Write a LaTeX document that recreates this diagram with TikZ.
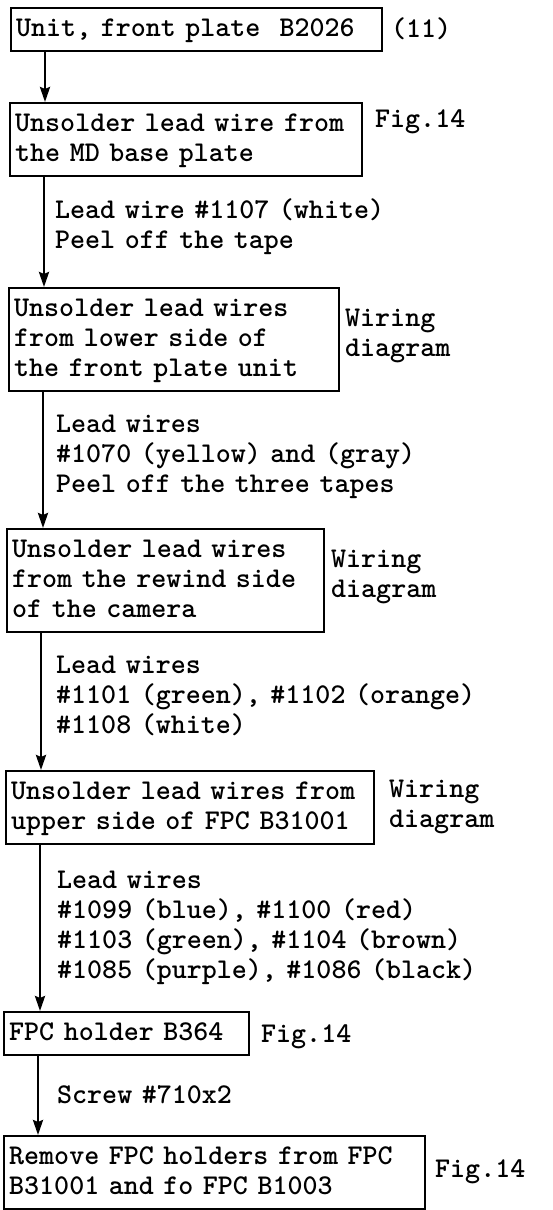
\documentclass[tikz,border=0pt]{standalone}
\usepackage{tikz}
\usetikzlibrary{arrows.meta, positioning, calc}
\newcommand{\flowfont}{\ttfamily\bfseries\fontsize{28.6}{30}\selectfont\frenchspacing}
\tikzset{
  % Riquadri delle operazioni (argomento = numero di righe)
  stepbox/.style={draw,line width=2.4pt,font=\flowfont,align=left,anchor=north west,
    inner xsep=5pt,inner ysep=8pt,text height=20pt,text depth={7pt+(#1-1)*30pt}},
  stepbox/.default=1,
  % Note a lato e testi lungo le frecce
  note/.style={font=\flowfont,align=left,anchor=base west,inner sep=0pt,text width=440pt},
  % Frecce
  flow/.style={-{Stealth[length=15pt,width=10pt,inset=2pt]},line width=2.6pt}
}
\begin{document}
\begin{tikzpicture}[x=1pt,y=-1pt]
  \useasboundingbox (0,0) rectangle (552,1210);
  % riquadri
  \node[stepbox,text width=361pt] (b1) at (10,7){Unit, front plate\ \ B2026};
  \node[stepbox=2,text width=342pt] (b2) at (9,102){Unsolder lead wire from\\the MD base plate};
  \node[stepbox=3,text width=320pt] (b3) at (8,287){Unsolder lead wires\\from lower side of\\the front plate unit};
  \node[stepbox=3,text width=307pt] (b4) at (6,528){Unsolder lead wires\\from the rewind side\\of the camera};
  \node[stepbox=2,text width=358pt] (b5) at (5,770){Unsolder lead wires from\\upper side of FPC B31001};
  \node[stepbox,text width=235pt] (b6) at (3,1011){FPC holder B364};
  \node[stepbox=2,text width=411pt] (b7) at (3,1135){Remove FPC holders from FPC\\B31001 and fo FPC B1003};
  % note a lato
  \node[note] (n1) at (391,37){(11)};
  \node[note] (n2) at (375,127){Fig.14};
  \node[note] (n3) at (345,326){Wiring\\diagram};
  \node[note] (n4) at (331,567){Wiring\\diagram};
  \node[note] (n5) at (389,797){Wiring\\diagram};
  \node[note] (n6) at (261,1042){Fig.14};
  \node[note] (n7) at (435,1177){Fig.14};
  % testi lungo le frecce
  \node[note] (l1) at (55,218){Lead wire \#1107 (white)\\Peel off the tape};
  \node[note] (l2) at (56,432){Lead wires\\\#1070 (yellow) and (gray)\\Peel off the three tapes};
  \node[note] (l3) at (56,673){Lead wires\\\#1101 (green), \#1102 (orange)\\\#1108 (white)};
  \node[note] (l4) at (57,888){Lead wires\\\#1099 (blue), \#1100 (red)\\\#1103 (green), \#1104 (brown)\\\#1085 (purple), \#1086 (black)};
  \node[note] (l5) at (57,1103){Screw \#710x2};
  % frecce
  \foreach \a/\b in {b1/b2,b2/b3,b3/b4,b4/b5,b5/b6,b6/b7}{
    \path (\a.south west) ++(35,0) coordinate (p);
    \draw[flow] (p) -- (p |- \b.north);
  }
\end{tikzpicture}
\end{document}
